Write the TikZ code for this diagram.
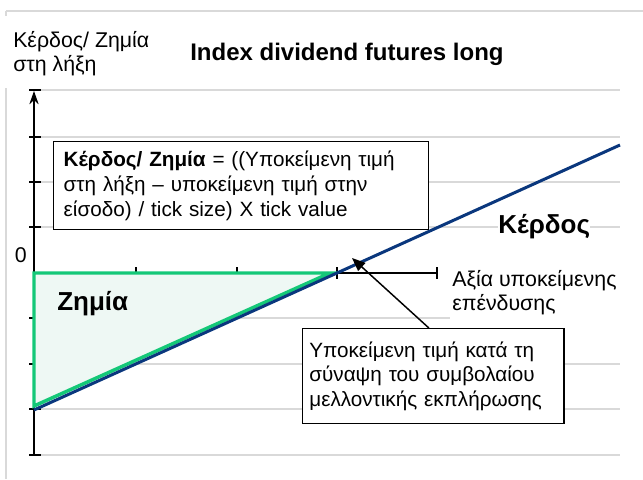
\documentclass[tikz,border=0pt]{standalone}
\usepackage{fontspec}
\setmainfont{Liberation Sans}
\usetikzlibrary{arrows.meta}
\definecolor{navx}{RGB}{10,55,125}
\definecolor{grx}{RGB}{20,200,120}
\definecolor{fillx}{RGB}{238,248,244}
\definecolor{gridx}{RGB}{217,217,217}

\begin{document}
\begin{tikzpicture}[x=0.75pt,y=-0.75pt,
    gridln/.style={gridx,line width=1.5pt},
    axisln/.style={black,line width=1.1pt},
    plaintxt/.style={font=\fontsize{16}{18.4}\selectfont,align=left,inner sep=0pt},
    bigtxt/.style={font=\fontsize{19.5}{22}\selectfont\bfseries,inner sep=0pt},
    txtbox/.style={draw,line width=1.1pt,fill=white,align=left,anchor=north west}
]
    \useasboundingbox (0,0) rectangle (643,479);
    \draw[gridln] (6,11) -- (643,11);
    \draw[gridln] (6,11) -- (6,16);
    \draw[gridln] (6,88) -- (6,479);
    \foreach \gy/\gx in {90/620,137/620,182/620,227/620,318/450,364/620,409/620,455/620}
    {
        \draw[gridln] (34,\gy) -- (\gx,\gy);
        \draw[axisln] (29,\gy) -- (41,\gy);
    }
    \draw[axisln,-{Stealth[length=10pt,width=7pt]}] (34,455) -- (34,91);
    \draw[axisln] (34,273) -- (437,273);
    \foreach \tx in {136,237,337,437}
        \draw[axisln] (\tx,267) -- (\tx,279);

    \draw[grx,line width=2.6pt,fill=fillx] (34,273) -- (330,273) -- (34,406) -- cycle;
    \draw[navx,line width=2.25pt] (34,410) -- (620,145);

    \node[plaintxt,anchor=north west] (yname) at (13,31) {Κέρδος/ Ζημία\\στη λήξη};
    \node[font=\fontsize{18}{21}\selectfont\bfseries,anchor=base west,inner sep=0pt] (title) at (190,60)
        {Index dividend futures long};
    \node[plaintxt,anchor=east] (zero) at (27,255) {0};
    \node[txtbox,font=\fontsize{15.5}{18.75}\selectfont,text width=266pt,inner xsep=7.5pt,minimum height=66pt] (formula) at (53,141)
        {\textbf{Κέρδος/ Ζημία} = ((Υποκείμενη τιμή\\στη λήξη – υποκείμενη τιμή στην\\είσοδο) / tick size) X tick value};
    \node[bigtxt,anchor=base west,fill=white] (gain) at (498,233) {Κέρδος};
    \node[bigtxt,anchor=base west] (loss) at (57,310) {Ζημία};
    \node[plaintxt,anchor=north west] (xname) at (452,270) {Αξία υποκείμενης\\επένδυσης};
    \node[txtbox,font=\fontsize{15.5}{18.4}\selectfont,text width=186pt,inner xsep=5pt,minimum height=71.25pt] (spot) at (302,328)
        {Υποκείμενη τιμή κατά τη\\σύναψη του συμβολαίου\\μελλοντικής εκπλήρωσης};

    \coordinate (entry) at (352,258);
    \draw[line width=1.1pt,-{Triangle[length=10pt,width=8pt]}] ([xshift=-3.4pt]spot.north) -- (entry);
\end{tikzpicture}
\end{document}
